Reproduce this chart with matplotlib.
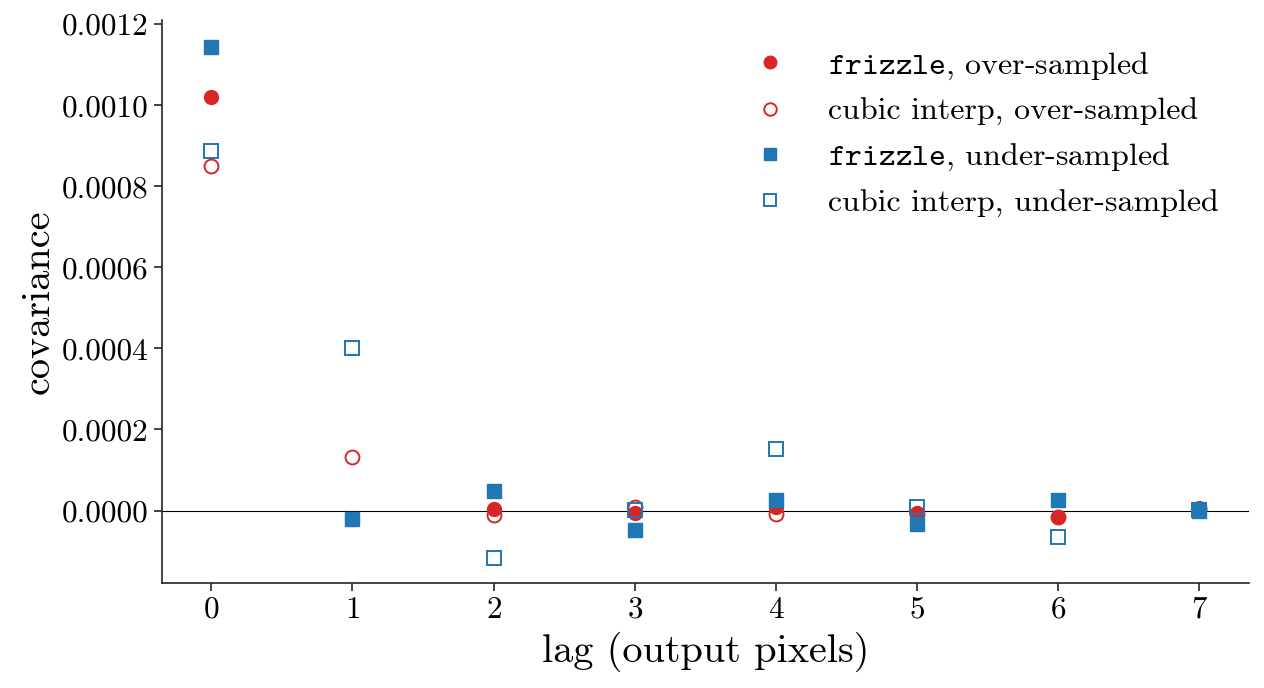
import matplotlib
matplotlib.use("Agg")
import matplotlib.pyplot as plt

plt.rcParams["font.family"] = "cmr10"
plt.rcParams["mathtext.fontset"] = "cm"
plt.rcParams["axes.formatter.use_mathtext"] = True

lags = [0, 1, 2, 3, 4, 5, 6, 7]

# covariance values
frizzle_over = [0.00102, -0.000022, 0.000005, -0.000005, 0.000008, -0.000005, -0.000016, 0.000006]
cubic_over = [0.000849, 0.000131, -0.00001, 0.000008, -0.000008, -0.000008, -0.000015, 0.000004]
frizzle_under = [0.001143, -0.000022, 0.000049, -0.000047, 0.000025, -0.000034, 0.000025, 0.0]
cubic_under = [0.000886, 0.0004, -0.000116, 0.000002, 0.000151, 0.000008, -0.000066, 0.000001]

red = "#d62728"
blue = "#1f77b4"

fig = plt.figure(figsize=(12.64, 6.88), dpi=100)
ax = fig.add_axes([0.128, 0.153, 0.86, 0.818])

ax.axhline(0, color="k", lw=0.8, zorder=1)

ax.plot(lags, frizzle_over, "o", color=red, ms=10, ls="none",
        label=r"$\mathtt{frizzle}$, over-sampled")
ax.plot(lags, cubic_over, "o", mec=red, mfc="none", mew=1.4, ms=10, ls="none",
        label="cubic interp, over-sampled")
ax.plot(lags, frizzle_under, "s", color=blue, ms=10, ls="none",
        label=r"$\mathtt{frizzle}$, under-sampled")
ax.plot(lags, cubic_under, "s", mec=blue, mfc="none", mew=1.4, ms=10, ls="none",
        label="cubic interp, under-sampled")

ax.set_xlim(-0.35, 7.35)
ax.set_ylim(-0.000178, 0.00121)
ax.set_yticks([0.0, 0.0002, 0.0004, 0.0006, 0.0008, 0.0010, 0.0012])
ax.set_yticklabels(["0.0000", "0.0002", "0.0004", "0.0006", "0.0008", "0.0010", "0.0012"])
ax.set_xticks(lags)

ax.spines["top"].set_visible(False)
ax.spines["right"].set_visible(False)
for s in ["left", "bottom"]:
    ax.spines[s].set_color("#262626")
    ax.spines[s].set_linewidth(1.2)
ax.tick_params(labelsize=22.5, length=6, width=1.2, color="#262626")

ax.set_xlabel("lag (output pixels)", fontsize=29, labelpad=6)
ax.set_ylabel("covariance", fontsize=29, labelpad=4)

ax.legend(loc="upper right", frameon=False, fontsize=23, handletextpad=0.8,
          labelspacing=0.5, borderaxespad=0.55, markerscale=0.9)

fig.savefig("out.png", dpi=100)
